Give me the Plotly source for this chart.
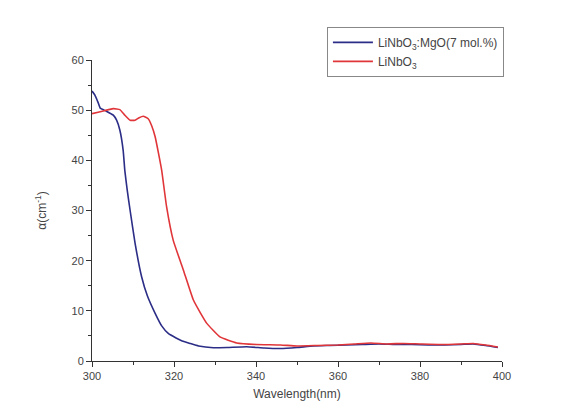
import plotly.graph_objects as go

# LiNbO3:MgO (7 mol.%)
mgo_x = [300.0, 300.7, 301.5, 302.0, 303.5, 305.2, 306.0, 306.8, 307.6, 308.0, 308.6, 309.3, 310.5,
         312.1, 313.5, 315.4, 317.0, 318.6, 320.5, 322.0, 323.9, 326.0, 329.6, 333.0, 337.7,
         342.0, 345.9, 350.0, 354.0, 358.0, 362.0, 366.0, 370.0, 374.0, 378.0, 382.0,
         386.0, 390.0, 393.0, 396.0, 399.0]
mgo_y = [53.8, 53.0, 51.5, 50.4, 49.8, 49.0, 48.0, 46.0, 42.0, 38.0, 34.0, 30.0, 23.5,
         16.8, 13.0, 9.5, 7.0, 5.5, 4.6, 4.0, 3.5, 3.0, 2.65, 2.7, 2.85,
         2.6, 2.5, 2.7, 3.0, 3.1, 3.2, 3.3, 3.4, 3.3, 3.3, 3.2,
         3.2, 3.3, 3.4, 3.1, 2.7]

# LiNbO3
lin_x = [300.0, 301.5, 303.0, 305.2, 306.8, 308.0, 309.3, 310.5, 311.5, 312.5, 313.7, 314.6,
         315.4, 316.2, 317.0, 318.2, 319.8, 322.3, 324.7, 326.5, 328.0, 331.2, 335.3,
         340.0, 346.0, 350.0, 355.0, 360.0, 364.0, 368.0, 372.0, 376.0, 380.0, 385.0,
         390.0, 393.0, 396.0, 399.0]
lin_y = [49.3, 49.6, 49.9, 50.3, 50.1, 49.0, 48.0, 48.0, 48.5, 48.8, 48.3, 46.8,
         44.7, 41.5, 38.0, 30.7, 24.1, 18.1, 12.2, 9.5, 7.5, 4.8, 3.6,
         3.3, 3.2, 3.0, 3.1, 3.2, 3.4, 3.6, 3.4, 3.5, 3.4, 3.3,
         3.4, 3.5, 3.2, 2.8]

x_ticks = [300, 320, 340, 360, 380, 400]
y_ticks = [0, 10, 20, 30, 40, 50, 60]

fig = go.Figure()
fig.add_trace(go.Scatter(x=mgo_x, y=mgo_y, mode="lines", name="LiNbO<sub>3</sub>:MgO(7 mol.%)",
                         line=dict(color="#2b2d86", width=1.6, shape="spline", smoothing=0.4)))
fig.add_trace(go.Scatter(x=lin_x, y=lin_y, mode="lines", name="LiNbO<sub>3</sub>",
                         line=dict(color="#e0363a", width=1.6, shape="spline", smoothing=0.4)))

axis_common = dict(showline=True, linecolor="#333", linewidth=1, ticks="outside", ticklen=5,
                   tickcolor="#333", showgrid=False, zeroline=False, automargin=False,
                   tickfont=dict(family="Liberation Sans, Arial", size=11, color="#444"))

fig.update_layout(
    width=576, height=409,
    margin=dict(l=92, r=74, t=60, b=48),
    paper_bgcolor="white", plot_bgcolor="white",
    font=dict(family="Liberation Sans, Arial", size=11, color="#444"),
    xaxis=dict(range=[300, 400], tickvals=x_ticks, title=dict(text="Wavelength(nm)", standoff=8,
               font=dict(size=12)), minor=dict(ticks="outside", dtick=10, ticklen=3, tickcolor="#333"),
               **axis_common),
    yaxis=dict(range=[0, 60], tickvals=y_ticks, title=dict(text="α(cm<sup>-1</sup>)", standoff=22,
               font=dict(size=12)), minor=dict(ticks="outside", dtick=5, ticklen=3, tickcolor="#333"),
               **axis_common),
    legend=dict(x=0.573, y=1.11, xanchor="left", yanchor="top", bgcolor="white",
                bordercolor="#888", borderwidth=1, font=dict(size=12, color="#444"),
                tracegroupgap=0, itemwidth=40),
    showlegend=True,
)

fig.write_html("out.html")
